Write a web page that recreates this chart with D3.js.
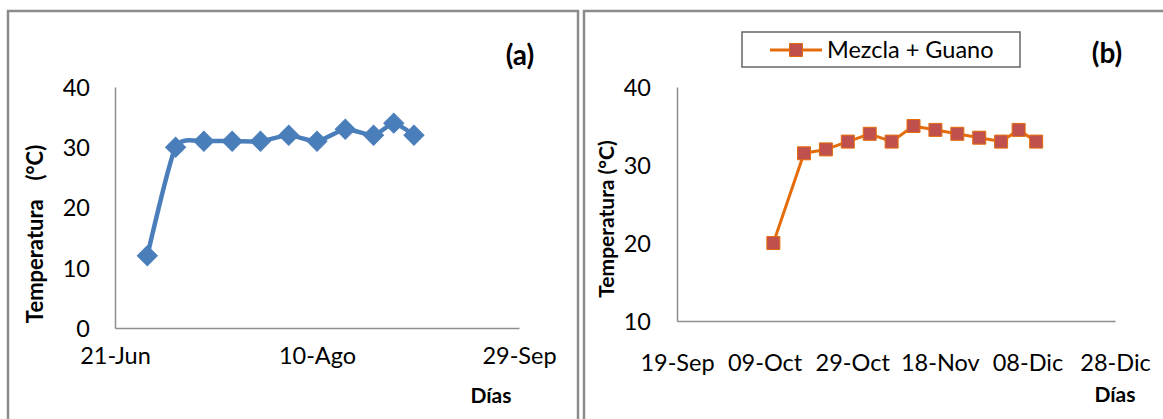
<!DOCTYPE html>
<html>
<head>
<meta charset="utf-8">
<script src="https://cdn.jsdelivr.net/npm/d3@7"></script>
<style>
  body { margin: 0; background: #fff; }
  svg { display: block; font-family: Lato, "Open Sans", sans-serif; }
  text { white-space: pre; }
</style>
</head>
<body>
<div id="chart"></div>
<script>
/* Temperatura vs días, panel (a) y panel (b) */

var parse = d3.timeParse("%Y-%m-%d");

// panel (a)
var datesA = ["2014-06-29", "2014-07-06", "2014-07-13", "2014-07-20", "2014-07-27", "2014-08-03",
	"2014-08-10", "2014-08-17", "2014-08-24", "2014-08-29", "2014-09-03"];
var tempA = [12, 30, 31, 31, 31, 32, 31, 33, 32, 34, 32];
var ticksA = ["2014-06-21", "2014-08-10", "2014-09-29"];
var tickLabelsA = ["21-Jun", "10-Ago", "29-Sep"];
var yTicksA = [0, 10, 20, 30, 40];

// panel (b)
var datesB = ["2014-10-11", "2014-10-18", "2014-10-23", "2014-10-28", "2014-11-02", "2014-11-07",
	"2014-11-12", "2014-11-17", "2014-11-22", "2014-11-27", "2014-12-02", "2014-12-06", "2014-12-10"];
var tempB = [20, 31.5, 32, 33, 34, 33, 35, 34.5, 34, 33.5, 33, 34.5, 33];
var ticksB = ["2014-09-19", "2014-10-09", "2014-10-29", "2014-11-18", "2014-12-08", "2014-12-28"];
var tickLabelsB = ["19-Sep", "09-Oct", "29-Oct", "18-Nov", "08-Dic", "28-Dic"];
var yTicksB = [10, 20, 30, 40];
var seriesNameB = "Mezcla + Guano";

var width = 1163, height = 419;
var axisColor = "#8e8e8e";

var svg = d3.select("#chart").append("svg")
	.attr("width", width)
	.attr("height", height);

svg.append("rect").attr("width", width).attr("height", height).attr("fill", "#fff");

// panel frames
svg.append("rect")
	.attr("x", 8).attr("y", 11).attr("width", 570).attr("height", 430)
	.attr("fill", "none").attr("stroke", "#8c8c8c").attr("stroke-width", 2.5);
svg.append("rect")
	.attr("x", 584).attr("y", 11).attr("width", 620).attr("height", 430)
	.attr("fill", "none").attr("stroke", "#8c8c8c").attr("stroke-width", 2.5);

function drawPanel(p) {
	var g = svg.append("g");
	var x = d3.scaleTime()
		.domain([parse(p.ticks[0]), parse(p.ticks[p.ticks.length - 1])])
		.range(p.xRange);
	var y = d3.scaleLinear().domain(p.yDomain).range(p.yRange);

	var xAxis = d3.axisBottom(x)
		.tickValues(p.ticks.map(parse))
		.tickFormat(function(d, i) { return p.tickLabels[i]; })
		.tickSize(0).tickPadding(p.xPad);
	var yAxis = d3.axisLeft(y)
		.tickValues(p.yTicks)
		.tickFormat(d3.format("d"))
		.tickSize(0).tickPadding(p.yPad);

	var gx = g.append("g")
		.attr("transform", "translate(0," + p.yRange[0] + ")")
		.call(xAxis);
	var gy = g.append("g")
		.attr("transform", "translate(" + p.xRange[0] + ",0)")
		.call(yAxis);
	[gx, gy].forEach(function(a) {
		a.select(".domain").attr("stroke", axisColor).attr("stroke-width", 1.5);
		a.selectAll("text").attr("fill", "#000").style("font-size", "23.5px")
			.style("font-family", "Lato, sans-serif");
	});
	gy.selectAll("text").attr("dy", "0.36em");

	var pts = p.dates.map(function(d, i) { return { date: parse(d), value: p.values[i] }; });

	var line = d3.line()
		.x(function(d) { return x(d.date); })
		.y(function(d) { return y(d.value); })
		.curve(p.curve);

	g.append("path")
		.datum(pts)
		.attr("fill", "none")
		.attr("stroke", p.lineColor)
		.attr("stroke-width", p.lineWidth)
		.attr("stroke-linejoin", "round")
		.attr("d", line);

	g.selectAll("path.marker")
		.data(pts)
		.enter().append("path")
		.attr("class", "marker")
		.attr("d", d3.symbol().type(d3.symbolSquare).size(p.markerSize))
		.attr("transform", function(d) {
			return "translate(" + x(d.date) + "," + y(d.value) + ") rotate(" + p.markerRotate + ")";
		})
		.attr("fill", p.markerFill)
		.attr("stroke", p.markerStroke)
		.attr("stroke-width", 1);

	// y title
	g.append("text")
		.attr("transform", "translate(" + p.yTitlePos[0] + "," + p.yTitlePos[1] + ") rotate(-90)")
		.attr("text-anchor", "middle")
		.attr("dy", "0.35em")
		.style("font-size", p.yTitleSize + "px").style("font-weight", "bold")
		.style("word-spacing", p.yTitleSpacing + "px")
		.text(p.yTitle);

	// x title
	g.append("text")
		.attr("x", p.xTitlePos[0]).attr("y", p.xTitlePos[1])
		.attr("text-anchor", "middle")
		.attr("dy", "0.35em")
		.style("font-size", "21px").style("font-weight", "bold")
		.text("Días");

	// panel letter
	g.append("text")
		.attr("x", p.letterPos[0]).attr("y", p.letterPos[1])
		.attr("text-anchor", "middle")
		.attr("dy", "0.35em")
		.style("font-size", "28px").style("font-weight", "bold")
		.text(p.letter);

	return { x: x, y: y };
}

drawPanel({
	dates: datesA, values: tempA, ticks: ticksA, tickLabels: tickLabelsA, yTicks: yTicksA,
	xRange: [115, 519], yDomain: [0, 40], yRange: [328, 87],
	xPad: 19, yPad: 25,
	curve: d3.curveCardinal.tension(0.4),
	lineColor: "#4a7ebb", lineWidth: 4.5,
	markerSize: 200, markerRotate: 45, markerFill: "#4a7ebb", markerStroke: "#4a7ebb",
	yTitle: "Temperatura  (°C)", yTitlePos: [35, 234], yTitleSize: 22, yTitleSpacing: 4,
	xTitlePos: [491, 396],
	letter: "(a)", letterPos: [520, 55]
});

drawPanel({
	dates: datesB, values: tempB, ticks: ticksB, tickLabels: tickLabelsB, yTicks: yTicksB,
	xRange: [677, 1115], yDomain: [10, 40], yRange: [321, 87],
	xPad: 33, yPad: 26,
	curve: d3.curveLinear,
	lineColor: "#e46c0a", lineWidth: 3,
	markerSize: 169, markerRotate: 0, markerFill: "#c0504d", markerStroke: "#e46c0a",
	yTitle: "Temperatura (°C)", yTitlePos: [607, 219], yTitleSize: 21, yTitleSpacing: 0,
	xTitlePos: [1115, 395],
	letter: "(b)", letterPos: [1107, 53]
});

// legend (b)
var legend = svg.append("g").attr("transform", "translate(742,32)");
legend.append("rect")
	.attr("width", 278).attr("height", 35)
	.attr("fill", "#fff").attr("stroke", "#666").attr("stroke-width", 1.5);
legend.append("line")
	.attr("x1", 28).attr("x2", 80).attr("y1", 18).attr("y2", 18)
	.attr("stroke", "#e46c0a").attr("stroke-width", 3);
legend.append("path")
	.attr("d", d3.symbol().type(d3.symbolSquare).size(169))
	.attr("transform", "translate(54,18)")
	.attr("fill", "#c0504d").attr("stroke", "#e46c0a").attr("stroke-width", 1);
legend.append("text")
	.attr("x", 85).attr("y", 18).attr("dy", "0.35em")
	.style("font-size", "23.5px")
	.text(seriesNameB);
</script>
</body>
</html>
